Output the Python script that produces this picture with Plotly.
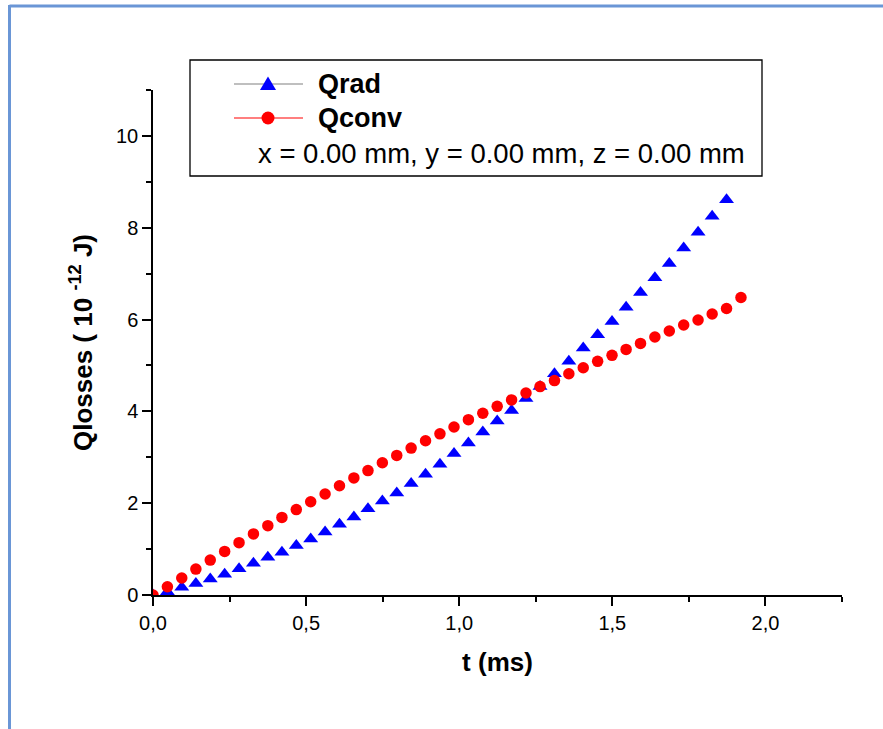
import plotly.graph_objects as go

# ---- data ----
t_ms = [0.000, 0.047, 0.094, 0.140, 0.187, 0.234, 0.281, 0.328, 0.375, 0.421,
        0.468, 0.515, 0.562, 0.609, 0.656, 0.702, 0.749, 0.796, 0.843, 0.890,
        0.937, 0.983, 1.030, 1.077, 1.124, 1.171, 1.218, 1.264, 1.311, 1.358,
        1.405, 1.452, 1.499, 1.545, 1.592, 1.639, 1.686, 1.733, 1.780, 1.826,
        1.873, 1.920]

q_rad = [0.00, 0.07, 0.17, 0.25, 0.35, 0.45, 0.57, 0.69, 0.82, 0.93,
         1.08, 1.22, 1.37, 1.54, 1.70, 1.88, 2.05, 2.22, 2.43, 2.63,
         2.85, 3.08, 3.31, 3.55, 3.79, 4.02, 4.28, 4.54, 4.82, 5.09,
         5.38, 5.67, 5.96, 6.27, 6.59, 6.91, 7.22, 7.56, 7.90, 8.25,
         8.61]

q_conv = [0.00, 0.18, 0.37, 0.565, 0.76, 0.95, 1.14, 1.33, 1.51, 1.69,
          1.86, 2.03, 2.20, 2.38, 2.55, 2.71, 2.88, 3.04, 3.20, 3.36,
          3.51, 3.66, 3.82, 3.96, 4.11, 4.25, 4.40, 4.54, 4.67, 4.82,
          4.95, 5.09, 5.22, 5.35, 5.48, 5.62, 5.75, 5.88, 5.99, 6.12,
          6.24, 6.48]

x_tickvals = [0.0, 0.5, 1.0, 1.5, 2.0]
x_ticktext = ["0,0", "0,5", "1,0", "1,5", "2,0"]
y_tickvals = [0, 2, 4, 6, 8, 10]
y_ticktext = ["0", "2", "4", "6", "8", "10"]

series_names = ["Qrad", "Qconv"]
series_colors = ["#0000FF", "#FF0000"]
legend_line_colors = ["#808080", "#FF0000"]
info_text = "x = 0.00 mm, y = 0.00 mm, z = 0.00 mm"

FONT = "Arial, 'Liberation Sans', sans-serif"

# ---- layout geometry (pixels) ----
W, H = 883, 729
L, R, T, B = 153, 41, 90, 134
PW, PH = W - L - R, H - T - B


def px(xp):
    return (xp - L) / PW


def py(yp):
    return (H - B - yp) / PH


fig = go.Figure()

fig.add_trace(go.Scatter(
    x=t_ms[:len(q_rad)], y=q_rad, mode="markers", name=series_names[0],
    marker=dict(symbol="triangle-up", size=13, color=series_colors[0],
                line=dict(width=0)),
    showlegend=False))
fig.add_trace(go.Scatter(
    x=t_ms, y=q_conv, mode="markers", name=series_names[1],
    marker=dict(symbol="circle", size=11.5, color=series_colors[1],
                line=dict(width=0)),
    showlegend=False))

# legend rows (pixel y of each row)
row_y = [84, 118]
glyph_x = 268

shapes = []
# outer blue frame (top & left edges visible)
shapes.append(dict(type="line", xref="paper", yref="paper",
                   x0=px(9.5), x1=px(900), y0=py(6), y1=py(6),
                   line=dict(color="#6A96D6", width=3)))
shapes.append(dict(type="line", xref="paper", yref="paper",
                   x0=px(9.5), x1=px(9.5), y0=py(5), y1=py(740),
                   line=dict(color="#6A96D6", width=3)))
# legend box
shapes.append(dict(type="rect", xref="paper", yref="paper",
                   x0=px(190), x1=px(762), y0=py(60), y1=py(176),
                   line=dict(color="#000000", width=1.3),
                   fillcolor="rgba(255,255,255,0)"))
# legend lines
for ry, lc in zip(row_y, legend_line_colors):
    shapes.append(dict(type="line", xref="paper", yref="paper",
                       x0=px(234), x1=px(303), y0=py(ry), y1=py(ry),
                       line=dict(color=lc, width=1.2)))
# legend glyphs: triangle (Qrad) and circle (Qconv)
gx, gy = glyph_x, row_y[0]
tri_path = "M {:.5f},{:.5f} L {:.5f},{:.5f} L {:.5f},{:.5f} Z".format(
    px(gx - 8), py(gy + 6), px(gx + 8), py(gy + 6), px(gx), py(gy - 7.5))
shapes.append(dict(type="path", xref="paper", yref="paper", path=tri_path,
                   fillcolor=series_colors[0], line=dict(width=0)))
gy = row_y[1]
shapes.append(dict(type="circle", xref="paper", yref="paper",
                   x0=px(gx - 6.5), x1=px(gx + 6.5),
                   y0=py(gy + 6.5), y1=py(gy - 6.5),
                   fillcolor=series_colors[1], line=dict(width=0)))

annotations = []
for ry, name in zip(row_y, series_names):
    annotations.append(dict(
        xref="paper", yref="paper", x=px(316), y=py(ry), xanchor="left",
        yanchor="middle", showarrow=False, text="<b>%s</b>" % name,
        font=dict(family=FONT, size=27, color="#000000")))
annotations.append(dict(
    xref="paper", yref="paper", x=px(256), y=py(153), xanchor="left",
    yanchor="middle", showarrow=False, text=info_text,
    font=dict(family=FONT, size=27.5, color="#000000")))

fig.update_layout(
    width=W, height=H,
    margin=dict(l=L, r=R, t=T, b=B, pad=0),
    paper_bgcolor="white", plot_bgcolor="white",
    showlegend=False,
    shapes=shapes, annotations=annotations,
    xaxis=dict(
        range=[0, 2.25], tickvals=x_tickvals, ticktext=x_ticktext,
        showgrid=False, zeroline=False, showline=True, linecolor="#000000",
        linewidth=1.5, ticks="outside", ticklen=9, tickwidth=1.5,
        tickcolor="#000000",
        minor=dict(tickvals=[0.25, 0.75, 1.25, 1.75, 2.25], ticks="outside",
                   ticklen=5, tickwidth=1.5, tickcolor="#000000"),
        tickfont=dict(family=FONT, size=20, color="#000000"),
        title=dict(text="<b>t (ms)</b>", standoff=20,
                   font=dict(family=FONT, size=26, color="#000000")),
        fixedrange=True),
    yaxis=dict(
        range=[0, 11], tickvals=y_tickvals, ticktext=y_ticktext,
        showgrid=False, zeroline=False, showline=True, linecolor="#000000",
        linewidth=1.5, ticks="outside", ticklen=9, tickwidth=1.5,
        tickcolor="#000000",
        minor=dict(tickvals=[1, 3, 5, 7, 9, 11], ticks="outside",
                   ticklen=5, tickwidth=1.5, tickcolor="#000000"),
        tickfont=dict(family=FONT, size=20, color="#000000"),
        title=dict(text="<b>Qlosses ( 10 <sup>-12</sup> J)</b>", standoff=16,
                   font=dict(family=FONT, size=26, color="#000000")),
        fixedrange=True),
)

fig.write_html("out.html")
